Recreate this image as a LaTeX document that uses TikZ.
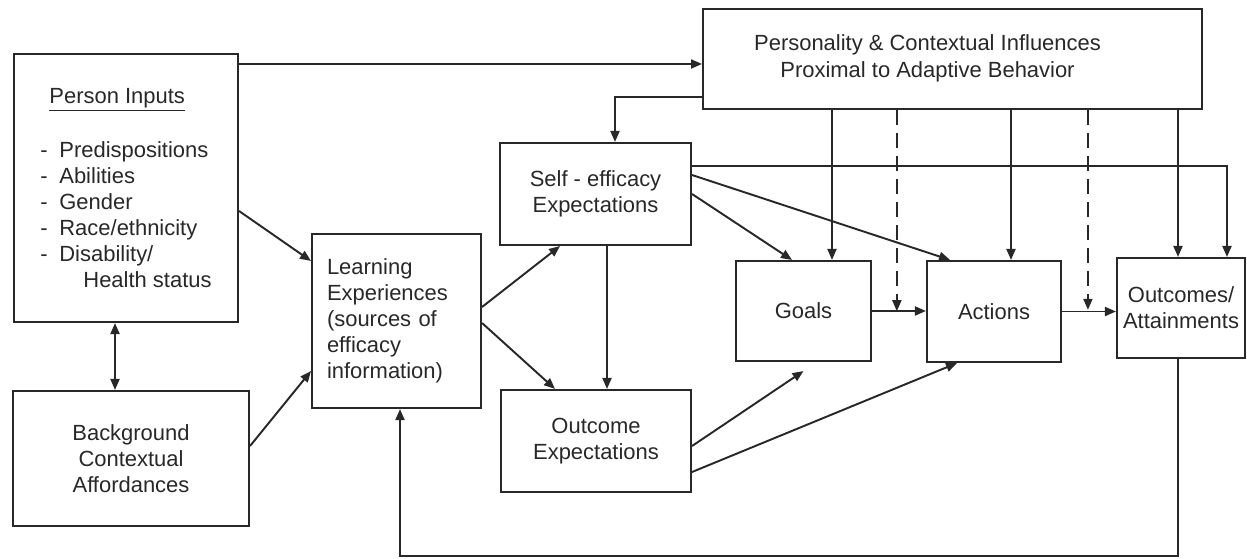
\documentclass[tikz,border=0pt]{standalone}
\usepackage{fontspec}
\setmainfont{Liberation Sans}
\usetikzlibrary{arrows.meta,calc}
\definecolor{ink}{RGB}{40,40,40}
\begin{document}
\begin{tikzpicture}[x=0.02cm,y=-0.02cm,
  >={Triangle[length=0.22cm,width=0.18cm]},
  box/.style={draw=ink,line width=1.2pt,text=ink,inner sep=0pt,align=center,
    font=\fontsize{12.5}{14.8}\selectfont},
  arr/.style={draw=ink,line width=1.1pt,->},
  arrboth/.style={draw=ink,line width=1.1pt,<->},
  dasharr/.style={arr,dash pattern=on 0.3cm off 0.16cm}]
\useasboundingbox (0,0) rectangle (1247,558);
\node[box,minimum width=4.48cm,minimum height=5.36cm,align=left] (person) at (126,188)
  {\hspace*{0.18cm}\underline{Person Inputs}\\[0.56cm]
   \makebox[0.38cm][l]{-}Predispositions\\
   \makebox[0.38cm][l]{-}Abilities\\
   \makebox[0.38cm][l]{-}Gender\\
   \makebox[0.38cm][l]{-}Race/ethnicity\\
   \makebox[0.38cm][l]{-}Disability/\\
   \hspace*{0.86cm}Health status};
\node[box,minimum width=4.72cm,minimum height=2.70cm] (background) at (131,458.5)
  {Background\\Contextual\\Affordances};
\node[box,minimum width=3.38cm,minimum height=3.48cm,text width=2.78cm,align=left] (learning) at (396.5,321)
  {Learning\\Experiences\\(sources of\\efficacy\\information)};
\node[box,minimum width=9.98cm,minimum height=2cm] (personality) at (952.5,59)
  {\raisebox{-0.1cm}{\def\arraystretch{1.04}\begin{tabular}{@{}c@{}}Personality \& Contextual Influences\\Proximal to Adaptive Behavior\end{tabular}}\kern1cm};
\node[box,minimum width=3.82cm,minimum height=2.04cm] (selfeff) at (595.5,194)
  {Self - efficacy\\Expectations};
\node[box,minimum width=3.80cm,minimum height=2.04cm] (outexp) at (596,441)
  {Outcome\\Expectations};
\node[box,minimum width=2.70cm,minimum height=2cm] (goals) at (803.5,311) {Goals};
\node[box,minimum width=2.68cm,minimum height=2.02cm] (actions) at (994,311.5) {Actions};
\node[box,minimum width=2.56cm,minimum height=2cm] (outcomes) at (1181,308)
  {Outcomes/\\Attainments};
\coordinate (m1) at ($(goals.east)!0.46!(actions.west)$);
\coordinate (m2) at ($(actions.east)!0.48!(outcomes.west)$);
\coordinate (loop) at (400,556);
% left side
\draw[arr] ([yshift=-0.22cm]person.north east) -- ([yshift=-0.22cm]person.north east -| personality.west);
\draw[arrboth] ([xshift=-0.22cm]person.south) -- ([xshift=-0.22cm]person.south |- background.north);
\draw[arr] ([yshift=-0.46cm]person.east) -- ([yshift=-0.56cm]learning.north west);
\draw[arr] ([yshift=0.25cm]background.east) -- ([yshift=0.76cm]learning.south west);
\draw[arr] ([yshift=0.28cm]learning.east) -- ([xshift=-0.71cm]selfeff.south);
\draw[arr] ([yshift=-0.04cm]learning.east) -- ([xshift=-0.82cm]outexp.north);
\draw[arr] ([xshift=0.23cm]selfeff.south) -- ([xshift=0.23cm]selfeff.south |- outexp.north);
% from personality
\draw[arr] ([yshift=0.26cm]personality.south west) -| ([xshift=0.39cm]selfeff.north);
\draw[arr] ([xshift=0.57cm]goals.north |- personality.south) -- ([xshift=0.57cm]goals.north);
\draw[arr] ([xshift=0.34cm]actions.north |- personality.south) -- ([xshift=0.34cm]actions.north);
\draw[arr] ([xshift=-0.06cm]outcomes.north |- personality.south) -- ([xshift=-0.06cm]outcomes.north);
\draw[dasharr] (m1 |- personality.south) -- (m1);
\draw[dasharr] (m2 |- personality.south) -- (m2);
% expectations
\draw[arr] ([yshift=0.56cm]selfeff.east) -| ([xshift=0.92cm]outcomes.north);
\draw[arr] (selfeff.east) -- ([xshift=-0.23cm]goals.north);
\draw[arr] ([yshift=0.38cm]selfeff.east) -- ([xshift=-0.88cm]actions.north);
\draw[arr] ([yshift=-0.1cm]outexp.east) -- ([yshift=-0.18cm]goals.south);
\draw[arr] ([yshift=-0.62cm]outexp.east) -- ([xshift=-0.74cm]actions.south);
\draw[arr] (goals.east) -- (goals.east -| actions.west);
\draw[arr] (actions.east) -- (actions.east -| outcomes.west);
% feedback
\draw[arr] ([xshift=-0.06cm]outcomes.south) |- (loop) -- (loop |- learning.south);
\end{tikzpicture}
\end{document}
